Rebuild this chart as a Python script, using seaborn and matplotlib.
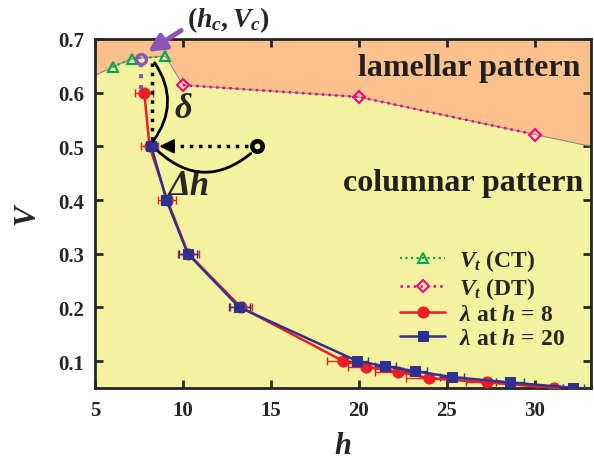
import numpy as np
import pandas as pd
import seaborn as sns
import matplotlib.pyplot as plt

# data
ct_h = [6.0, 7.08, 9.0]
ct_V = [0.648, 0.663, 0.668]
dt_h = [10.0, 20.0, 30.0]
dt_V = [0.614, 0.592, 0.522]

# phase boundary (ends at the axes edges)
bound_h = [5.0, 6.0, 7.08, 9.0, 10.0, 20.0, 30.0, 33.2]
bound_V = [0.632, 0.648, 0.663, 0.668, 0.614, 0.592, 0.522, 0.500]

red_h = [7.8, 8.1, 9.1, 10.3, 13.3, 19.1, 20.4, 22.2, 24.0, 27.3, 31.1]
red_V = [0.6, 0.5, 0.4, 0.3, 0.2, 0.1, 0.089, 0.08, 0.068, 0.06, 0.05]
red_err = [0.5, 0.5, 0.5, 0.6, 0.6, 0.9, 1.0, 1.3, 1.3, 1.2, 1.0]

blue_h = [8.2, 9.06, 10.27, 13.2, 19.9, 21.5, 23.2, 25.3, 28.6, 32.2]
blue_V = [0.5, 0.4, 0.3, 0.2, 0.1, 0.09, 0.081, 0.07, 0.06, 0.05]
blue_err = [0.3, 0.3, 0.5, 0.6, 0.6, 0.6, 0.7, 0.7, 0.8, 0.6]

hc, Vc = 7.6, 0.663
ring_h, ring_V = 14.18, 0.5

ORANGE = '#fbc28e'
YELLOW = '#f4f29e'
RED = '#ee1c25'
BLUE = '#2e3192'
GREEN = '#00a651'
PINK = '#ec008c'
PURPLE = '#8b55b5'

sns.set_style('ticks')
plt.rcParams['font.family'] = ['Liberation Serif', 'DejaVu Serif']
plt.rcParams['font.weight'] = 'bold'
plt.rcParams['mathtext.fontset'] = 'custom'
plt.rcParams['mathtext.rm'] = 'Liberation Serif:bold'
plt.rcParams['mathtext.it'] = 'Liberation Serif:italic:bold'
plt.rcParams['mathtext.bf'] = 'Liberation Serif:bold'

fig = plt.figure(figsize=(5.94, 4.64), dpi=100)
ax = fig.add_axes([0.16, 0.1606, 0.835, 0.7532])
ax.set_facecolor(YELLOW)

# lamellar region
ax.fill_between(bound_h, bound_V, 0.7, color=ORANGE, lw=0, zorder=0)
ax.plot(bound_h, bound_V, color='#8a8a8a', lw=0.8, zorder=1)

sns.lineplot(x=ct_h, y=ct_V, ax=ax, color=GREEN, ls=':', lw=1.5, marker='^',
             markersize=7, markerfacecolor='none', markeredgecolor=GREEN,
             markeredgewidth=1.5, label=r'$V_t$ (CT)', zorder=3)
sns.lineplot(x=dt_h, y=dt_V, ax=ax, color=PINK, ls=':', lw=1.8, marker='D',
             markersize=6.5, markerfacecolor='none', markeredgecolor=PINK,
             markeredgewidth=1.5, label=r'$V_t$ (DT)', zorder=3)

ax.errorbar(red_h, red_V, xerr=red_err, fmt='none', ecolor=RED, elinewidth=1,
            capsize=3, capthick=1, zorder=3)
ax.errorbar(blue_h, blue_V, xerr=blue_err, fmt='none', ecolor=BLUE, elinewidth=1,
            capsize=3, capthick=1, zorder=3)
sns.lineplot(x=red_h, y=red_V, ax=ax, color=RED, lw=1.8, marker='o',
             markersize=8, markeredgecolor=RED, label=r'$\lambda$ at $h$ = 8', zorder=4)
sns.lineplot(x=blue_h, y=blue_V, ax=ax, color=BLUE, lw=1.8, marker='s',
             markersize=7.5, markeredgecolor=BLUE, label=r'$\lambda$ at $h$ = 20', zorder=5)

# annotations around the critical point
ax.plot([hc, hc], [0.655, 0.605], color=PURPLE, ls=':', lw=3, zorder=6)
ax.plot([8.25, 8.25], [0.655, 0.505], color='black', ls=':', lw=2.5, zorder=6)
ax.plot([hc], [Vc], marker='o', ms=7.2, mfc='none', mec=PURPLE, mew=2.4, zorder=7)
ax.annotate('', xy=(8.0, 0.676), xytext=(9.9, 0.716), annotation_clip=False,
            arrowprops=dict(arrowstyle='-|>', color=PURPLE, lw=3.5,
                            mutation_scale=26, shrinkA=0, shrinkB=0))
ax.text(12.6, 0.737, r'$(h_c, V_c)$', fontsize=20, ha='center', va='center',
        clip_on=False)

ax.annotate('', xy=(8.2, 0.505), xytext=(8.3, 0.66),
            arrowprops=dict(arrowstyle='-', color='black', lw=2,
                            connectionstyle='arc3,rad=-0.37'), zorder=6)
ax.text(10.0, 0.571, 'δ', fontsize=25, style='italic', weight='bold',
        ha='center', va='center')

ax.plot([ring_h - 0.5, 9.4], [0.5, 0.5], color='black', ls=':', lw=2.5, zorder=6)
ax.annotate('', xy=(8.5, 0.5), xytext=(9.6, 0.5),
            arrowprops=dict(arrowstyle='-|>', color='black', lw=1.5,
                            mutation_scale=22), zorder=6)
ax.annotate('', xy=(8.45, 0.495), xytext=(ring_h - 0.2, 0.49),
            arrowprops=dict(arrowstyle='-', color='black', lw=2,
                            connectionstyle='arc3,rad=-0.45'), zorder=6)
ax.plot([ring_h], [ring_V], marker='o', ms=7.5, mfc='none', mec='black', mew=3.3, zorder=7)
ax.text(10.3, 0.427, 'Δh', fontsize=25, style='italic', weight='bold',
        ha='center', va='center')

ax.text(26.3, 0.646, 'lamellar pattern', fontsize=23, weight='bold',
        ha='center', va='center', color='#231f20')
ax.text(25.9, 0.432, 'columnar pattern', fontsize=23, weight='bold',
        ha='center', va='center', color='#231f20')

ax.set_xlim(5, 33.2)
ax.set_ylim(0.0488, 0.7)
ax.set_xticks([5, 10, 15, 20, 25, 30])
ax.set_yticks([0.1, 0.2, 0.3, 0.4, 0.5, 0.6, 0.7])
ax.set_yticklabels(['0.1', '0.2', '0.3', '0.4', '0.5', '0.6', '0.7'])
ax.tick_params(direction='in', length=6, width=2, top=True, right=True,
               labelsize=15, pad=8)
for lab in ax.get_xticklabels() + ax.get_yticklabels():
    lab.set_fontweight('bold')
for sp in ax.spines.values():
    sp.set_linewidth(2)
    sp.set_visible(True)

ax.set_xlabel('h', fontsize=22, style='italic', weight='bold', labelpad=8)
ax.set_ylabel('V', fontsize=22, style='italic', weight='bold', labelpad=12)

ax.legend(loc='upper left', bbox_to_anchor=(0.615, 0.405), frameon=False,
          fontsize=17, handlelength=1.9, handletextpad=0.6, labelspacing=0.1,
          borderpad=0, borderaxespad=0)

fig.savefig('out.png', dpi=100)
